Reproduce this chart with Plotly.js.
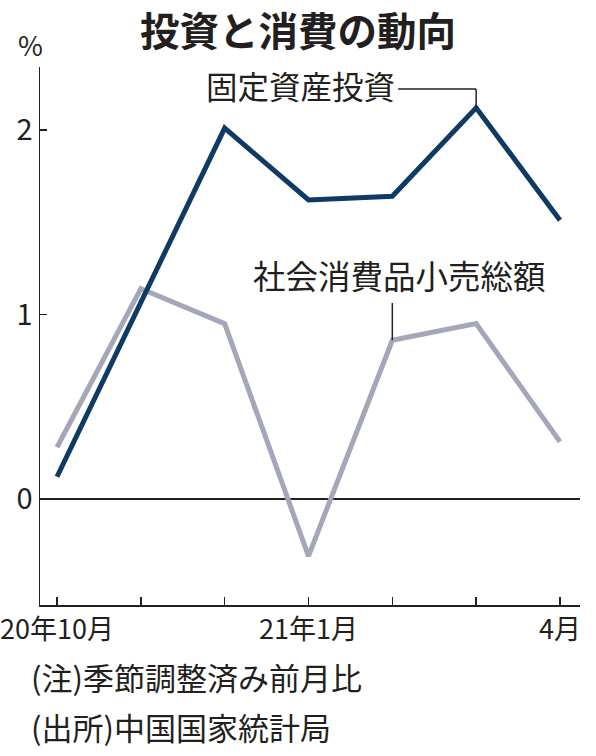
<!DOCTYPE html>
<html>
<head>
<meta charset="utf-8">
<script src="https://cdn.plot.ly/plotly-3.0.1.min.js"></script>
<style>
html,body{margin:0;padding:0;background:#fff;}
#chart{width:596px;height:756px;}
</style>
</head>
<body>
<div id="chart"></div>
<script>
const months = ['20年10月','11月','12月','21年1月','2月','3月','4月'];
const tickLabels = ['20年10月','','','21年1月','','','4月'];
const investment = [0.12, 1.06, 2.01, 1.62, 1.64, 2.12, 1.51];
const retail = [0.28, 1.14, 0.95, -0.31, 0.86, 0.95, 0.31];
const yTicks = [0, 1, 2];

const idx = months.map((_, i) => i);
const FONT = '"Noto Sans CJK JP", "Noto Sans", sans-serif';
const TXT = '#231f20';

const traces = [
  {x: idx, y: retail, type: 'scatter', mode: 'lines',
   line: {color: '#a4a6b9', width: 5}, hoverinfo: 'skip'},
  {x: idx, y: investment, type: 'scatter', mode: 'lines',
   line: {color: '#0f3a64', width: 5}, hoverinfo: 'skip'}
];

const layout = {
  width: 596, height: 756,
  margin: {l: 40, r: 16, t: 67, b: 151},
  paper_bgcolor: '#fff', plot_bgcolor: '#fff',
  showlegend: false,
  font: {family: FONT, color: TXT},
  title: {text: '<b>投資と消費の動向</b>', font: {size: 39.5, family: FONT, color: TXT},
          x: 0.5, xanchor: 'center', y: 0.958, yanchor: 'middle', yref: 'container'},
  xaxis: {
    range: [-0.203, 6.239], tickvals: idx, ticktext: tickLabels,
    showline: true, linecolor: TXT, linewidth: 1.5,
    ticks: 'inside', ticklen: 8, tickcolor: TXT, tickwidth: 1.5,
    showgrid: false, zeroline: false, ticklabeloverflow: 'allow',
    tickfont: {size: 27, family: FONT, color: TXT}, fixedrange: true
  },
  yaxis: {
    range: [-0.575, 2.341], tickvals: yTicks, ticktext: yTicks.map(String),
    showline: true, linecolor: TXT, linewidth: 1.5,
    ticks: 'inside', ticklen: 7, tickcolor: TXT, tickwidth: 1.5,
    showgrid: false, zeroline: true, zerolinecolor: TXT, zerolinewidth: 1.3,
    tickfont: {size: 29, family: FONT, color: TXT}, ticklabelstandoff: 0, fixedrange: true
  },
  shapes: [
    {type: 'line', xref: 'x', yref: 'y', x0: 4.07, x1: 5, y0: 2.222, y1: 2.222,
     line: {color: TXT, width: 1.5}},
    {type: 'line', xref: 'x', yref: 'y', x0: 5, x1: 5, y0: 2.222, y1: investment[5],
     line: {color: TXT, width: 1.5}},
    {type: 'line', xref: 'x', yref: 'y', x0: 4, x1: 4, y0: 1.062, y1: retail[4],
     line: {color: TXT, width: 1.5}}
  ],
  annotations: [
    {text: '固定資産投資', xref: 'x', yref: 'y', x: 4.06, y: 2.245,
     xanchor: 'right', yanchor: 'middle', showarrow: false,
     font: {size: 31.5, family: FONT, color: TXT}},
    {text: '社会消費品小売総額', xref: 'x', yref: 'y', x: 4.08, y: 1.219,
     xanchor: 'center', yanchor: 'middle', showarrow: false,
     font: {size: 32.5, family: FONT, color: TXT}},
    {text: '%', xref: 'paper', yref: 'paper', x: -0.017, y: 1.041,
     xanchor: 'center', yanchor: 'middle', showarrow: false,
     font: {size: 27, family: FONT, color: TXT}},
    {text: '(注)季節調整済み前月比', xref: 'paper', yref: 'paper', x: -0.02, y: -0.133,
     xanchor: 'left', yanchor: 'middle', showarrow: false,
     font: {size: 31, family: FONT, color: TXT}},
    {text: '(出所)中国国家統計局', xref: 'paper', yref: 'paper', x: -0.02, y: -0.226,
     xanchor: 'left', yanchor: 'middle', showarrow: false,
     font: {size: 31, family: FONT, color: TXT}}
  ]
};

Plotly.newPlot('chart', traces, layout, {staticPlot: true, displayModeBar: false});
</script>
</body>
</html>
